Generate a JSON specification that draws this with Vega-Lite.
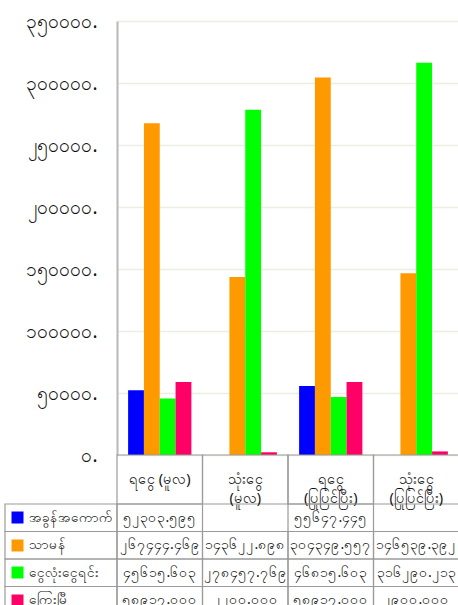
{
  "$schema": "https://vega.github.io/schema/vega-lite/v6.json",
  "background": "white",
  "padding": {"left": 4, "top": 12, "right": 0, "bottom": 0},
  "datasets": {
    "main": [
      {"category": "ရငွေ (မူလ)", "series": "အခွန်အကောက်", "value": 52303.595},
      {"category": "ရငွေ (မူလ)", "series": "သာမန်", "value": 267444.469},
      {"category": "ရငွေ (မူလ)", "series": "ငွေလုံးငွေရင်း", "value": 45615.603},
      {"category": "ရငွေ (မူလ)", "series": "ကြွေးမြီ", "value": 58917.0},
      {"category": "သုံးငွေ\n(မူလ)", "series": "သာမန်", "value": 143622.898},
      {"category": "သုံးငွေ\n(မူလ)", "series": "ငွေလုံးငွေရင်း", "value": 278457.769},
      {"category": "သုံးငွေ\n(မူလ)", "series": "ကြွေးမြီ", "value": 2200.0},
      {"category": "ရငွေ\n(ပြုပြင်ပြီး)", "series": "အခွန်အကောက်", "value": 55647.445},
      {"category": "ရငွေ\n(ပြုပြင်ပြီး)", "series": "သာမန်", "value": 304349.557},
      {"category": "ရငွေ\n(ပြုပြင်ပြီး)", "series": "ငွေလုံးငွေရင်း", "value": 46815.603},
      {"category": "ရငွေ\n(ပြုပြင်ပြီး)", "series": "ကြွေးမြီ", "value": 58917.0},
      {"category": "သုံးငွေ\n(ပြုပြင်ပြီး)", "series": "သာမန်", "value": 146539.392},
      {"category": "သုံးငွေ\n(ပြုပြင်ပြီး)", "series": "ငွေလုံးငွေရင်း", "value": 316290.213},
      {"category": "သုံးငွေ\n(ပြုပြင်ပြီး)", "series": "ကြွေးမြီ", "value": 2900.0}
    ],
    "headers": [
      {"category": "ရငွေ (မူလ)"},
      {"category": "သုံးငွေ\n(မူလ)"},
      {"category": "ရငွေ\n(ပြုပြင်ပြီး)"},
      {"category": "သုံးငွေ\n(ပြုပြင်ပြီး)"}
    ],
    "serieslist": [
      {"series": "အခွန်အကောက်"},
      {"series": "သာမန်"},
      {"series": "ငွေလုံးငွေရင်း"},
      {"series": "ကြွေးမြီ"}
    ],
    "blank": []
  },
  "columns": 2,
  "spacing": 0,
  "bounds": "flush",
  "align": "each",
  "concat": [
    {
      "width": 112, "height": 434,
      "data": {"name": "blank"},
      "mark": "point",
      "encoding": {}
    },
    {
      "width": 342, "height": 434,
      "data": {"name": "main"},
      "mark": {"type": "bar"},
      "encoding": {
        "x": {
          "field": "category", "type": "nominal",
          "scale": {"domain": ["ရငွေ (မူလ)", "သုံးငွေ\n(မူလ)", "ရငွေ\n(ပြုပြင်ပြီး)", "သုံးငွေ\n(ပြုပြင်ပြီး)"], "paddingInner": 0.26, "paddingOuter": 0.13},
          "axis": null
        },
        "xOffset": {
          "field": "series", "type": "nominal",
          "scale": {"domain": ["အခွန်အကောက်", "သာမန်", "ငွေလုံးငွေရင်း", "ကြွေးမြီ"], "paddingInner": 0, "paddingOuter": 0}
        },
        "y": {
          "field": "value", "type": "quantitative",
          "scale": {"domain": [0, 350000], "nice": false},
          "axis": {
            "title": null,
            "values": [0, 50000, 100000, 150000, 200000, 250000, 300000, 350000],
            "format": ".0f",
            "labelExpr": "datum.label + '.'",
            "grid": true, "gridColor": "#e9f0e1", "gridWidth": 1.5,
            "ticks": false,
            "domain": true, "domainColor": "#b8b8b8", "domainWidth": 2,
            "labelFontSize": 19, "labelColor": "#111", "labelPadding": 20
          }
        },
        "color": {
          "field": "series", "type": "nominal",
          "scale": {"domain": ["အခွန်အကောက်", "သာမန်", "ငွေလုံးငွေရင်း", "ကြွေးမြီ"], "range": ["#0000ff", "#ff9900", "#00ff00", "#ff0066"]},
          "legend": null
        }
      }
    },
    {
      "width": 112, "height": 49,
      "data": {"name": "blank"},
      "mark": "point",
      "encoding": {}
    },
    {
      "width": 342, "height": 49,
      "data": {"name": "headers"},
      "layer": [
        {
          "mark": {"type": "rect", "filled": false, "stroke": "#9a9a9a", "strokeWidth": 1.2},
          "encoding": {
            "x": {"field": "category", "type": "nominal", "scale": {"domain": ["ရငွေ (မူလ)", "သုံးငွေ\n(မူလ)", "ရငွေ\n(ပြုပြင်ပြီး)", "သုံးငွေ\n(ပြုပြင်ပြီး)"], "paddingInner": 0, "paddingOuter": 0}, "axis": null}
          }
        },
        {
          "mark": {"type": "text", "lineBreak": "\n", "fontSize": 14.5, "lineHeight": 19, "color": "#111"},
          "encoding": {
            "x": {"field": "category", "type": "nominal", "axis": null},
            "text": {"field": "category"}
          }
        }
      ]
    },
    {
      "width": 112, "height": 110,
      "data": {"name": "serieslist"},
      "mark": {"type": "rect", "filled": false, "stroke": "#9a9a9a", "strokeWidth": 1.2},
      "encoding": {
        "y": {
          "field": "series", "type": "nominal",
          "scale": {"domain": ["အခွန်အကောက်", "သာမန်", "ငွေလုံးငွေရင်း", "ကြွေးမြီ"], "paddingInner": 0, "paddingOuter": 0},
          "axis": {
            "title": null, "orient": "left", "domain": false, "grid": false,
            "ticks": true, "tickSize": -12, "tickWidth": 12,
            "tickColor": {"condition": [
              {"test": "datum.value === 'အခွန်အကောက်'", "value": "#0000ff"},
              {"test": "datum.value === 'သာမန်'", "value": "#ff9900"},
              {"test": "datum.value === 'ငွေလုံးငွေရင်း'", "value": "#00ff00"}
            ], "value": "#ff0066"},
            "offset": -6,
            "labelAlign": "left", "labelPadding": -5, "labelFontSize": 13.5, "labelColor": "#111", "labelLimit": 0
          }
        }
      }
    },
    {
      "width": 342, "height": 110,
      "data": {"name": "main"},
      "layer": [
        {
          "mark": {"type": "rect", "filled": false, "stroke": "#9a9a9a", "strokeWidth": 1.2}
        },
        {
          "mark": {"type": "text", "fontSize": 14, "color": "#111"},
          "encoding": {
            "text": {"field": "value", "type": "quantitative", "format": ".3f"}
          }
        }
      ],
      "encoding": {
        "x": {"field": "category", "type": "nominal", "scale": {"domain": ["ရငွေ (မူလ)", "သုံးငွေ\n(မူလ)", "ရငွေ\n(ပြုပြင်ပြီး)", "သုံးငွေ\n(ပြုပြင်ပြီး)"], "paddingInner": 0, "paddingOuter": 0}, "axis": null},
        "y": {"field": "series", "type": "nominal", "scale": {"domain": ["အခွန်အကောက်", "သာမန်", "ငွေလုံးငွေရင်း", "ကြွေးမြီ"], "paddingInner": 0, "paddingOuter": 0}, "axis": null}
      }
    }
  ],
  "config": {
    "font": "Noto Sans",
    "view": {"stroke": null},
    "locale": {
      "number": {
        "decimal": ".",
        "thousands": ",",
        "grouping": [3],
        "currency": ["", ""],
        "numerals": ["၀", "၁", "၂", "၃", "၄", "၅", "၆", "၇", "၈", "၉"]
      }
    }
  }
}
